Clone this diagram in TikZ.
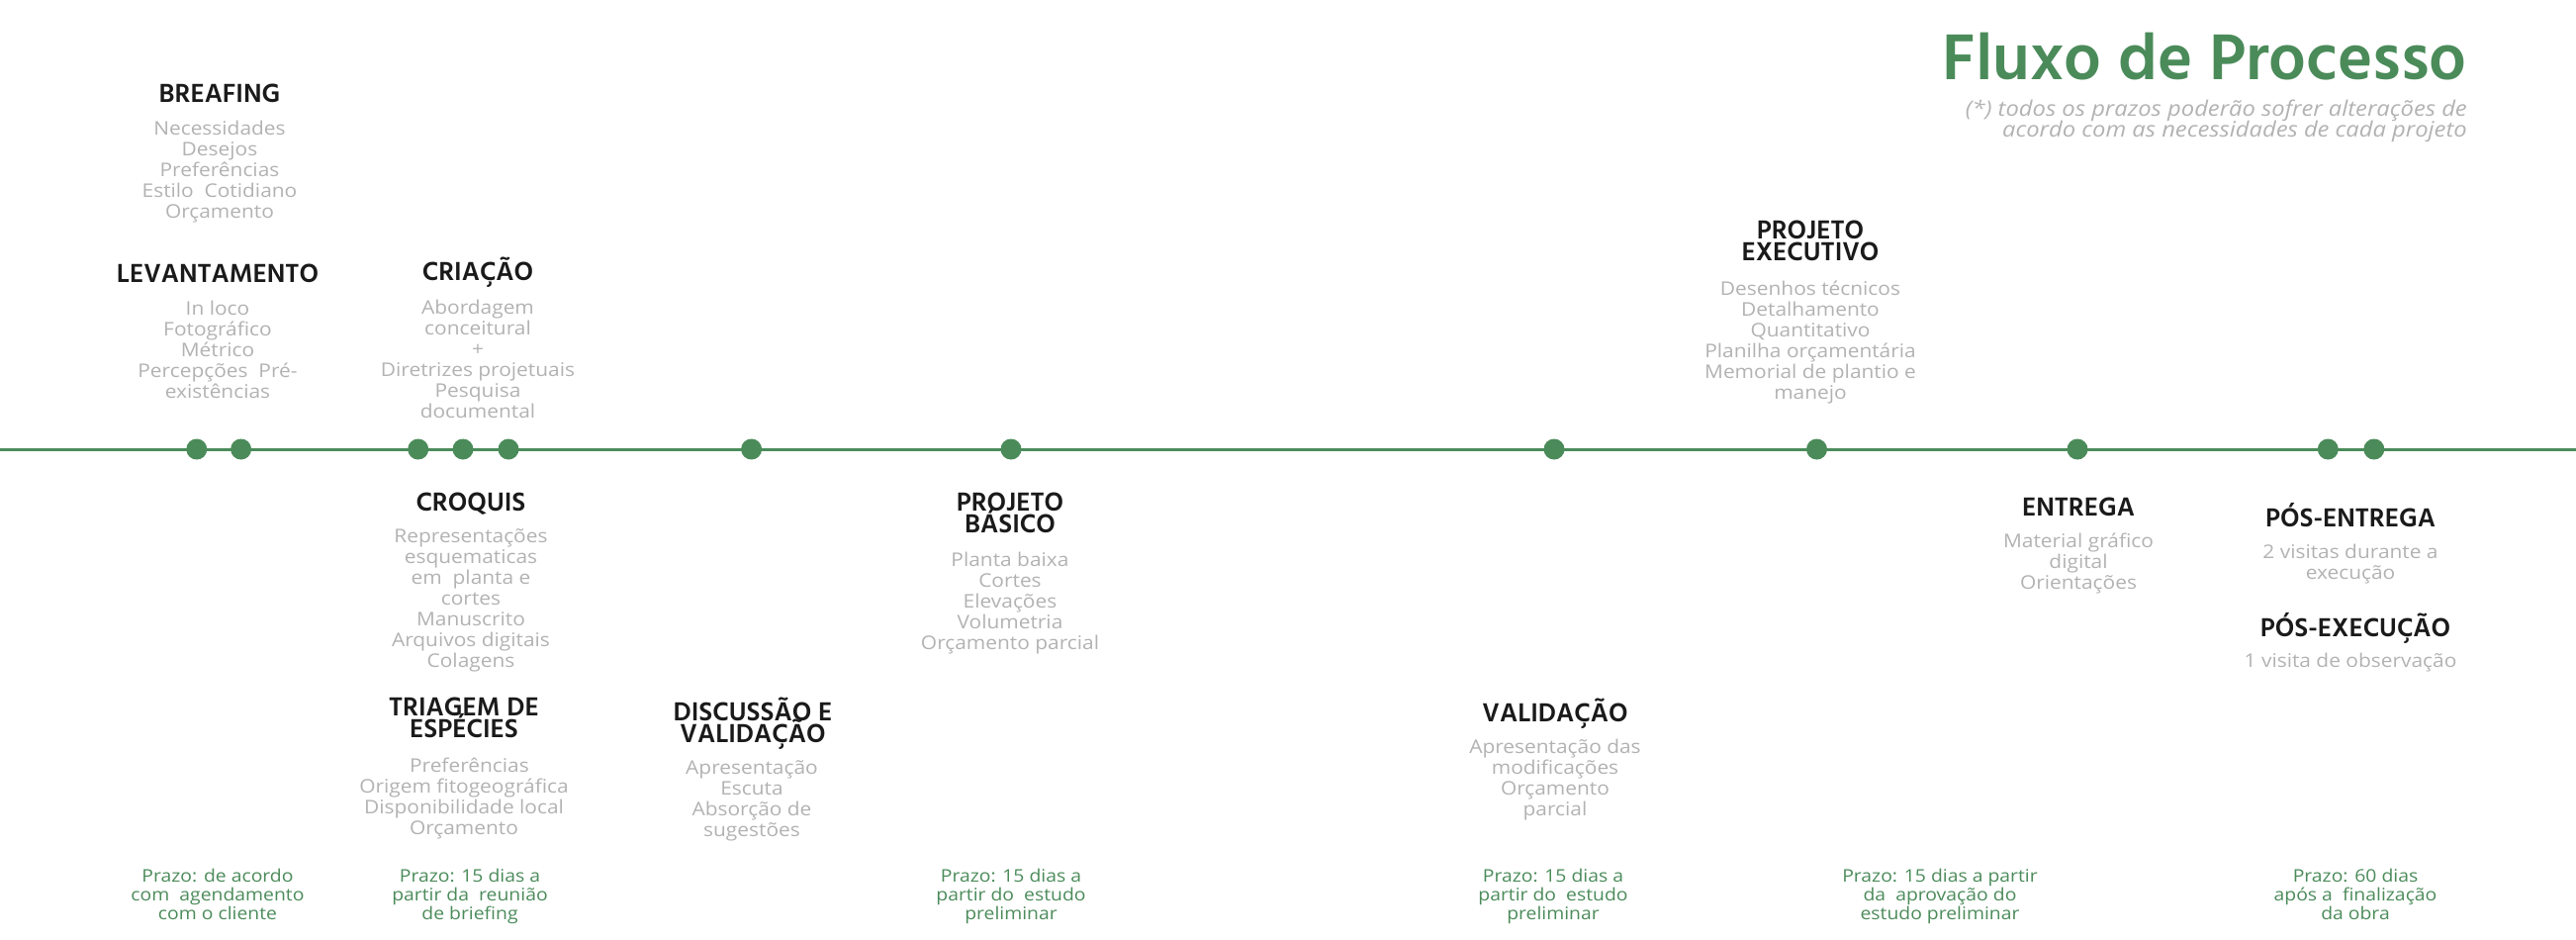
\documentclass[tikz,border=0pt]{standalone}
\usepackage{fontspec}
\setmainfont{Hind Madurai}
\newfontfamily\bodyfont[FakeStretch=1.1]{Open Sans}
\definecolor{leaf}{HTML}{4B8B5A}
\definecolor{mist}{HTML}{B2B2B2}
\definecolor{ink}{HTML}{1A1A1A}
% stacks of lines at a fixed baseline pitch; the stack's baseline is its first line
\newcommand\linestack[1]{\vtop{\lineskiplimit=-1000pt\relax\let\\\cr
  \halign{\hfil##\hfil\cr#1\crcr}}}
\newcommand\rightstack[1]{\vtop{\lineskiplimit=-1000pt\relax\let\\\cr
  \halign{\hfil##\cr#1\crcr}}}
\begin{document}
\begin{tikzpicture}[x=1pt,y=-1pt,
  head/.style={font=\fontsize{27}{22.5}\selectfont\bfseries, text=ink, inner sep=0pt, anchor=base},
  body/.style={font=\bodyfont\fontsize{19}{21}\selectfont, text=mist, inner sep=0pt, anchor=base},
  prazo/.style={font=\bodyfont\fontsize{17.6}{19}\selectfont, text=leaf, inner sep=0pt, anchor=base},
  milestone/.style={circle, fill=leaf, minimum size=21pt, inner sep=0pt},
  timeline/.style={draw=leaf, line width=3pt}]
\useasboundingbox (0,0) rectangle (2604,950);

% title and note
\node[anchor=base east, inner sep=0pt, font=\fontsize{67}{67}\selectfont\bfseries, text=leaf] (title) at (2494,81) {Fluxo de Processo};
\node[anchor=base east, inner sep=0pt, font=\bodyfont\itshape\fontsize{21.6}{21.5}\selectfont, text=mist] (note) at (2494,117)
  {\rightstack{(*) todos os prazos poderão sofrer alterações de\\acordo com as necessidades de cada projeto}};

% timeline
\coordinate (tl-start) at (0,454);
\coordinate (tl-end) at (2604,454);
\draw[timeline] (tl-start) -- (tl-end);
\foreach \x [count=\i] in {198.8,243.6,422.7,468,514,759.6,1022,1571,1836.5,2100,2353.3,2399.8}
  \node[milestone] (m\i) at (\x,454) {};

% stages above the line
\node[head] (breafing) at (222,103) {BREAFING};
\node[body] (breafing-b) at (222,136) {\linestack{Necessidades\\Desejos\\Preferências\\Estilo\ \ Cotidiano\\Orçamento}};

\node[head] (levant) at (220,285) {LEVANTAMENTO};
\node[body] (levant-b) at (220,318) {\linestack{In loco\\Fotográfico\\Métrico\\Percepções\ \ Pré-\\existências}};

\node[head] (criacao) at (483,283) {CRIAÇÃO};
\node[body] (criacao-b) at (483,317) {\linestack{Abordagem\\conceitural\\+\\Diretrizes projetuais\\Pesquisa\\documental}};

\node[head] (executivo) at (1830,241) {\linestack{PROJETO\\EXECUTIVO}};
\node[body] (executivo-b) at (1830,298) {\linestack{Desenhos técnicos\\Detalhamento\\Quantitativo\\Planilha orçamentária\\Memorial de plantio e\\manejo}};

% stages below the line
\node[head] (croquis) at (476,516) {CROQUIS};
\node[body] (croquis-b) at (476,548) {\linestack{Representações\\esquematicas\\em\ \ planta e\\cortes\\Manuscrito\\Arquivos digitais\\Colagens}};

\node[head] (triagem) at (469,723) {\linestack{TRIAGEM DE\\ESPÉCIES}};
\node[body] (triagem-b) at (469,780) {\linestack{\ \ Preferências\\Origem fitogeográfica\\Disponibilidade local\\Orçamento}};

\node[head] (discussao) at (761,728) {\linestack{DISCUSSÃO E\\VALIDAÇÃO}};
\node[body] (discussao-b) at (760,782) {\linestack{Apresentação\\Escuta\\Absorção de\\sugestões}};

\node[head] (basico) at (1021,516) {\linestack{PROJETO\\BÁSICO}};
\node[body] (basico-b) at (1021,572) {\linestack{Planta baixa\\Cortes\\Elevações\\Volumetria\\Orçamento parcial}};

\node[head] (validacao) at (1572,729) {VALIDAÇÃO};
\node[body] (validacao-b) at (1572,761) {\linestack{Apresentação das\\modificações\\Orçamento\\parcial}};

\node[head] (entrega) at (2101,521) {ENTREGA};
\node[body] (entrega-b) at (2101,553) {\linestack{Material gráfico\\digital\\Orientações}};

\node[head] (posentrega) at (2376,532) {PÓS-ENTREGA};
\node[body] (posentrega-b) at (2376,564) {\linestack{2 visitas durante a\\execução}};

\node[head] (posexec) at (2381,643) {PÓS-EXECUÇÃO};
\node[body] (posexec-b) at (2376,674) {1 visita de observação};

% deadlines
\node[prazo] (p1) at (220,891) {\linestack{Prazo: de acordo\\com\ \ agendamento\\com o cliente}};
\node[prazo] (p2) at (475,891) {\linestack{Prazo: 15 dias a\\partir da\ \ reunião\\de briefing}};
\node[prazo] (p3) at (1022,891) {\linestack{Prazo: 15 dias a\\partir do\ \ estudo\\preliminar}};
\node[prazo] (p4) at (1570,891) {\linestack{Prazo: 15 dias a\\partir do\ \ estudo\\preliminar}};
\node[prazo] (p5) at (1961,891) {\linestack{Prazo: 15 dias a partir\\da\ \ aprovação do\\estudo preliminar}};
\node[prazo] (p6) at (2381,891) {\linestack{Prazo: 60 dias\\após a\ \ finalização\\da obra}};
\end{tikzpicture}
\end{document}
